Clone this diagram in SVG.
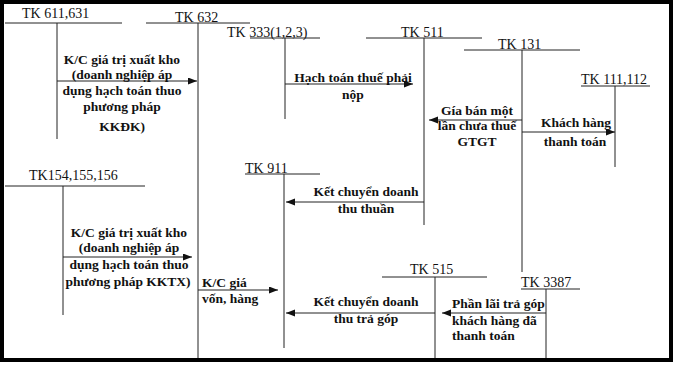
<svg xmlns="http://www.w3.org/2000/svg" width="675" height="365" viewBox="0 0 675 365">
<defs>
<marker id="ah" markerUnits="userSpaceOnUse" markerWidth="10" markerHeight="8" refX="9" refY="3.5" orient="auto">
<path d="M0,0 L9,3.5 L0,7 z" fill="#111"/>
</marker>
<style>
.ln{stroke:#222;stroke-width:1;fill:none}
.ar{stroke:#222;stroke-width:1;fill:none;marker-end:url(#ah)}
.tk{font-family:"Liberation Serif","Times New Roman",serif;font-size:14px;fill:#111}
.lb{font-family:"Liberation Serif","Times New Roman",serif;font-size:13.5px;font-weight:bold;fill:#111}
.c{text-anchor:middle}
</style>
</defs>
<rect x="0" y="0" width="675" height="365" fill="#fff"/>
<rect x="2" y="2" width="669" height="358" fill="none" stroke="#000" stroke-width="4"/>

<g id="tk611">
<text class="tk" x="22" y="18">TK 611,631</text>
<line class="ln" x1="5" y1="23" x2="122" y2="23"/>
<line class="ln" x1="57" y1="23" x2="57" y2="139"/>
</g>
<g id="tk632">
<text class="tk" x="175" y="22">TK 632</text>
<line class="ln" x1="146" y1="23" x2="250" y2="23"/>
<line class="ln" x1="198" y1="23" x2="198" y2="358"/>
</g>
<g id="tk333">
<text class="tk" x="227" y="37">TK 333(1,2,3)</text>
<line class="ln" x1="250" y1="38" x2="320" y2="38"/>
<line class="ln" x1="285" y1="38" x2="285" y2="119"/>
</g>
<g id="tk511">
<text class="tk" x="401" y="37">TK 511</text>
<line class="ln" x1="366" y1="38" x2="482" y2="38"/>
<line class="ln" x1="424" y1="38" x2="424" y2="225"/>
</g>
<g id="tk131">
<text class="tk" x="498" y="49">TK 131</text>
<line class="ln" x1="464" y1="50" x2="580" y2="50"/>
<line class="ln" x1="522" y1="50" x2="522" y2="272"/>
</g>
<g id="tk111">
<text class="tk" x="581" y="84">TK 111,112</text>
<line class="ln" x1="581" y1="86" x2="650" y2="86"/>
<line class="ln" x1="615" y1="86" x2="615" y2="167"/>
</g>
<g id="tk154">
<text class="tk" x="29" y="180">TK154,155,156</text>
<line class="ln" x1="5" y1="186" x2="145" y2="186"/>
<line class="ln" x1="63" y1="186" x2="63" y2="315"/>
</g>
<g id="tk911">
<text class="tk" x="245" y="173">TK 911</text>
<line class="ln" x1="245" y1="174" x2="320" y2="174"/>
<line class="ln" x1="284" y1="174" x2="284" y2="348"/>
</g>
<g id="tk515">
<text class="tk" x="410" y="274">TK 515</text>
<line class="ln" x1="382" y1="277" x2="487" y2="277"/>
<line class="ln" x1="435" y1="277" x2="435" y2="358"/>
</g>
<g id="tk3387">
<text class="tk" x="521" y="287">TK 3387</text>
<line class="ln" x1="521" y1="289" x2="580" y2="289"/>
<line class="ln" x1="546" y1="289" x2="546" y2="358"/>
</g>

<g id="connectors">
<line class="ar" x1="57" y1="81" x2="197" y2="81"/>
<line class="ar" x1="285" y1="84" x2="413" y2="84"/>
<line class="ar" x1="522" y1="120" x2="429" y2="120"/>
<line class="ar" x1="522" y1="132" x2="615" y2="132"/>
<line class="ar" x1="424" y1="202" x2="286" y2="202"/>
<line class="ar" x1="63" y1="257" x2="192" y2="257"/>
<line class="ar" x1="198" y1="290" x2="278" y2="290"/>
<line class="ar" x1="435" y1="313" x2="286" y2="313"/>
<line class="ar" x1="546" y1="313" x2="442" y2="313"/>
</g>

<g id="labels">
<text class="lb c" x="122" y="64">K/C giá trị xuất kho</text>
<text class="lb c" x="122" y="79">(doanh nghiệp áp</text>
<text class="lb c" x="122" y="95">dụng hạch toán thuo</text>
<text class="lb c" x="122" y="111">phương pháp</text>
<text class="lb c" x="122" y="131">KKĐK)</text>

<text class="lb c" x="353" y="82">Hạch toán thuế phải</text>
<text class="lb c" x="353" y="99">nộp</text>

<text class="lb c" x="477" y="115">Gía bán một</text>
<text class="lb c" x="477" y="130">lần chưa thuế</text>
<text class="lb c" x="477" y="146">GTGT</text>

<text class="lb c" x="576" y="127">Khách hàng</text>
<text class="lb c" x="575" y="146">thanh toán</text>

<text class="lb c" x="366" y="196">Kết chuyển doanh</text>
<text class="lb c" x="366" y="213">thu thuần</text>

<text class="lb c" x="129" y="237">K/C giá trị xuất kho</text>
<text class="lb c" x="129" y="252">(doanh nghiệp áp</text>
<text class="lb c" x="129" y="269">dụng hạch toán thuo</text>
<text class="lb c" x="128" y="286">phương pháp KKTX)</text>

<text class="lb" x="202" y="287">K/C giá</text>
<text class="lb" x="202" y="303">vốn, hàng</text>

<text class="lb c" x="366" y="306">Kết chuyển doanh</text>
<text class="lb c" x="366" y="323">thu trả góp</text>

<text class="lb" x="452" y="308">Phần lãi trả góp</text>
<text class="lb" x="452" y="325">khách hàng đã</text>
<text class="lb" x="452" y="340">thanh toán</text>
</g>
</svg>
